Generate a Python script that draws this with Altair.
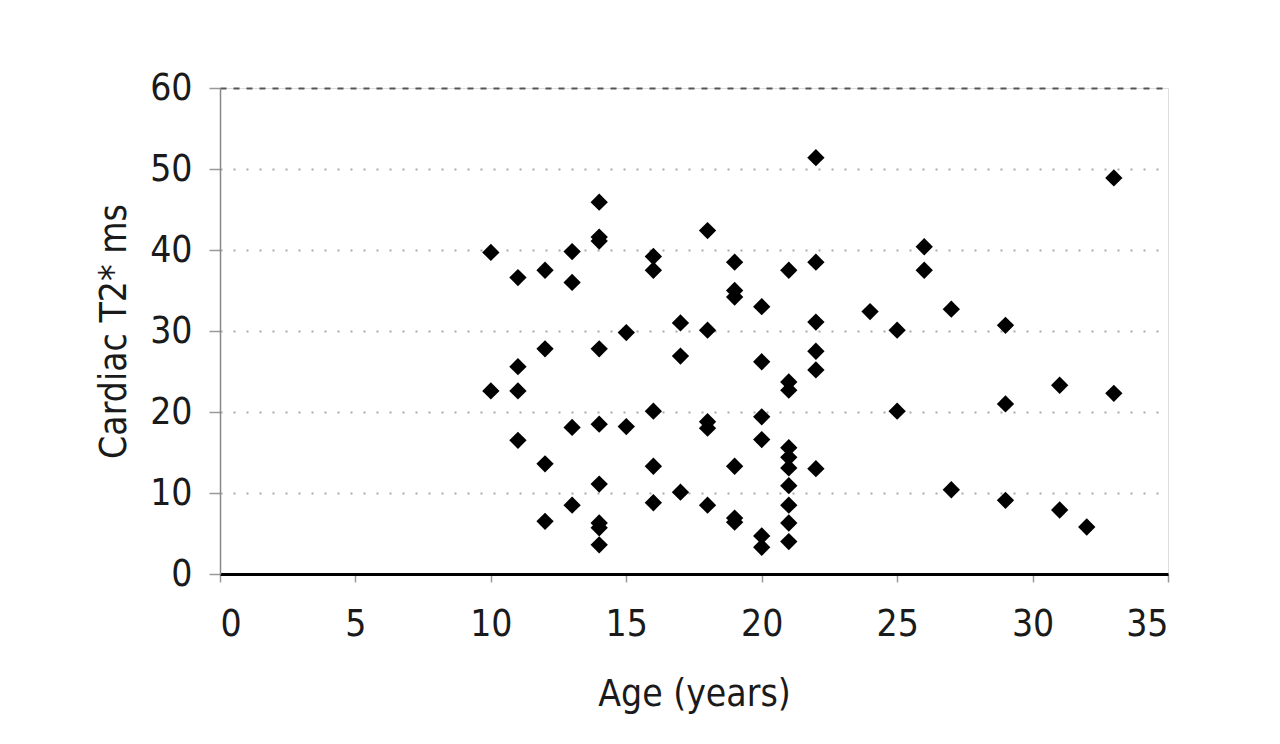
import altair as alt
import pandas as pd

# Age (years) of each patient
age = [
    10, 10,
    11, 11, 11, 11,
    12, 12, 12, 12,
    13, 13, 13, 13,
    14, 14, 14, 14, 14, 14, 14, 14, 14,
    15, 15,
    16, 16, 16, 16, 16,
    17, 17, 17,
    18, 18, 18, 18, 18,
    19, 19, 19, 19, 19, 19,
    20, 20, 20, 20, 20, 20,
    21, 21, 21, 21, 21, 21, 21, 21, 21, 21,
    22, 22, 22, 22, 22, 22,
    24,
    25, 25,
    26, 26,
    27, 27,
    29, 29, 29,
    31, 31,
    32,
    33, 33,
]

# Cardiac T2* (ms)
t2 = [
    39.7, 22.6,
    36.6, 25.6, 22.6, 16.5,
    37.5, 27.8, 13.6, 6.5,
    39.8, 36.0, 18.1, 8.5,
    45.9, 41.6, 41.1, 27.8, 18.5, 11.1, 6.3, 5.7, 3.6,
    29.8, 18.2,
    39.2, 37.5, 20.1, 13.3, 8.8,
    31.0, 26.9, 10.1,
    42.4, 30.1, 18.8, 18.0, 8.5,
    38.5, 35.0, 34.2, 13.3, 6.9, 6.4,
    33.0, 26.2, 19.4, 16.6, 4.7, 3.3,
    37.5, 23.7, 22.7, 15.6, 14.4, 13.1, 10.9, 8.5, 6.3, 4.0,
    51.4, 38.5, 31.1, 27.5, 25.2, 13.0,
    32.4,
    30.1, 20.1,
    40.4, 37.5,
    32.7, 10.4,
    30.7, 21.0, 9.1,
    23.3, 7.9,
    5.8,
    48.9, 22.3,
]

df = pd.DataFrame({"age": age, "t2": t2})

FONT = "Liberation Sans Narrow, DejaVu Sans Condensed, Arial Narrow, sans-serif"

points = alt.Chart(df).mark_point(
    shape="diamond", filled=True, color="black", size=300, opacity=1
).encode(
    x=alt.X(
        "age:Q",
        scale=alt.Scale(domain=[0, 35], nice=False, zero=True),
        axis=alt.Axis(
            title="Age (years)",
            values=[0, 5, 10, 15, 20, 25, 30, 35],
            grid=False,
            domainColor="black",
            domainWidth=3,
            tickColor="#999999",
            tickSize=8,
            tickWidth=1.5,
            labelPadding=24,
            labelFontSize=37,
            labelColor="#1a1a1a",
            labelFont=FONT,
            titleFont=FONT,
            titleFontSize=37,
            titleFontWeight="normal",
            titleColor="#1a1a1a",
            titlePadding=34,
        ),
    ),
    y=alt.Y(
        "t2:Q",
        scale=alt.Scale(domain=[0, 60], nice=False),
        axis=alt.Axis(
            title="Cardiac T2* ms",
            values=[0, 10, 20, 30, 40, 50, 60],
            grid=True,
            gridColor=alt.condition("datum.value == 60", alt.value("#555555"), alt.value("#aaaaaa")),
            gridDash=alt.condition("datum.value == 60", alt.value([6, 7]), alt.value([2, 11])),
            gridWidth=2,
            domainColor="#888888",
            domainWidth=1.5,
            tickColor="#999999",
            tickSize=11,
            tickWidth=1.5,
            labelPadding=17,
            labelFontSize=37,
            labelColor="#1a1a1a",
            labelFont=FONT,
            titleFont=FONT,
            titleFontSize=37,
            titleFontWeight="normal",
            titleColor="#1a1a1a",
            titlePadding=16,
        ),
    ),
)

chart = points.properties(
    width=948,
    height=486,
    autosize=alt.AutoSizeParams(type="none"),
    padding={"left": 212, "top": 80, "right": 100, "bottom": 150},
).configure_view(
    stroke="#999999", strokeWidth=1.5
).configure(background="white")

chart.save("out.html", embed_options={"renderer": "svg", "actions": False})
